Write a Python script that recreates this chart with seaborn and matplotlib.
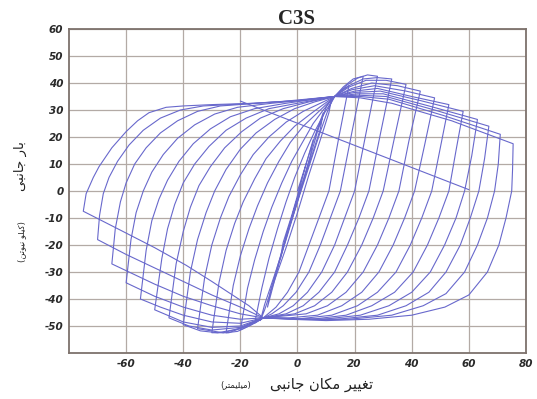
import matplotlib
matplotlib.use("Agg")
import matplotlib.pyplot as plt
import pandas as pd
import seaborn as sns

# ---- data (displacement mm, lateral load kN) ----
S1 = [(0, 0), (3, 10), (5.5, 19), (4.5, 13), (2, 4), (-1, -6), (-4, -17), (-6, -25),
      (-5, -19), (-2, -9), (1, 2), (3, 10)]
S2 = [(3, 10), (6, 20), (9, 29), (8, 23), (5, 13), (1, 0), (-3, -14), (-6.5, -27),
      (-9, -37), (-10.5, -43), (-9.5, -37), (-7, -28), (-4, -17), (0, -4), (4, 11),
      (7, 22), (10, 31)]
S3 = [(10, 31), (12, 34.5), (11, 29), (8, 19), (4, 6), (0, -8), (-4, -21), (-8, -33),
      (-11.5, -44), (-13, -48), (-11.5, -42), (-8, -31), (-4, -18), (0, -4), (4, 9),
      (8, 22), (11, 31), (13, 35)]
L1 = [(13, 35), (15.5, 37.5), (18, 39), (14.5, 20), (11, 0), (7.5, -10), (4, -20), (0.5, -30),
      (-3.5, -37.5), (-7.5, -43), (-12, -47), (-15, -49), (-12.5, -36), (-10, -25), (-7, -14),
      (-4, -4), (-1, 5), (2.5, 14), (6, 22), (9.5, 29), (13, 35)]
L2 = [(13, 35), (16, 38.5), (19.5, 41.5), (23, 42.5), (19, 21.5), (15, 0), (11.5, -10), (8, -20),
      (4, -30), (-0.5, -37.5), (-5, -42.5), (-9, -45.5), (-12, -47), (-16, -49.5), (-20, -51.5),
      (-17.5, -36), (-15, -25.5), (-12, -15), (-9, -6), (-5.5, 3), (-2, 11), (2, 18.5),
      (5.5, 25), (9, 30), (13, 35)]
L3 = [(13, 35), (17, 39), (21, 41.8), (24.5, 43), (28, 42.5), (24, 21.5), (20, 0), (16.5, -10),
      (13, -20), (8.5, -30), (3.5, -37.5), (-1.5, -42.5), (-6.5, -45.5), (-12, -47), (-17, -50),
      (-21, -52), (-25, -52.5), (-22.5, -35), (-20, -24), (-17, -14), (-14, -5.5), (-10.5, 3),
      (-6.5, 11), (-2.5, 18), (2, 24), (6.5, 28.5), (10, 32), (13, 35)]
L4 = [(13, 35), (18, 39), (23, 41.5), (28, 42), (33, 41.5), (29, 21), (25, 0), (21.5, -10),
      (17.5, -20), (13, -30), (7.5, -37.5), (2, -42.5), (-4, -45.5), (-12, -47), (-18, -50),
      (-24, -52.5), (-30, -52.5), (-27.5, -34), (-25, -22), (-22, -12), (-19, -4), (-15, 4.5),
      (-11, 12), (-6, 18.5), (-1, 24), (4.5, 28.5), (9, 32), (13, 35)]
L5 = [(13, 35), (18, 38.5), (24, 41), (31, 41), (38, 39.5), (34, 20), (30, 0), (26.5, -10),
      (22.5, -20), (17.5, -30), (12, -37.5), (6, -42.5), (-1, -45.5), (-12, -47), (-19, -50.5),
      (-26, -52.5), (-35, -51), (-32.5, -32), (-30, -20), (-27, -10), (-24, -2), (-20, 6),
      (-15.5, 13.5), (-10, 20), (-4, 25.5), (2, 29.5), (8, 32.5), (13, 35)]
L6 = [(13, 35), (19, 38), (26, 40), (35, 39), (43, 37), (39, 18.5), (35.5, 0), (32, -10),
      (28, -20), (23, -30), (17, -37.5), (10.5, -42.5), (3, -45.5), (-12, -47), (-20, -51),
      (-28, -52.5), (-34, -51.8), (-40, -49.5), (-37.5, -30), (-35, -18), (-32, -8), (-29, 0),
      (-25, 8), (-20, 15.5), (-14.5, 21.5), (-8, 26.5), (-1, 30.5), (6, 33), (13, 35)]
L7 = [(13, 35), (19, 37.5), (27, 39), (38, 37), (48, 34.5), (44.5, 17), (41, 0), (37.5, -10),
      (33.5, -20), (28.5, -30), (22.5, -37.5), (15.5, -42.5), (7, -46), (-3, -47), (-12, -47),
      (-20, -50.5), (-30, -51.5), (-38, -50), (-45, -47), (-42.5, -27), (-40, -15), (-37.5, -6),
      (-34.5, 2), (-30.5, 9), (-25.5, 16), (-19.5, 22), (-13, 27), (-5, 30.5), (4, 33), (13, 35)]
L8 = [(13, 35), (20, 37), (28, 38), (40, 35), (53, 32), (50, 16), (47, 0), (43.5, -10),
      (39.5, -20), (34.5, -30), (28, -37.5), (21, -42.5), (12, -46), (1, -47.3), (-12, -47),
      (-20, -50), (-30, -50.5), (-40, -48.5), (-50, -44), (-47.5, -25), (-45.5, -14), (-43, -5),
      (-40, 3), (-36, 10), (-31, 16.5), (-25, 22.5), (-18, 27), (-10, 30.5), (0, 32.5), (13, 35)]
L9 = [(13, 35), (20, 36.5), (29, 37), (43, 33.5), (58, 29.5), (55.5, 15), (53, 0), (49.5, -10),
      (45.5, -20), (40.5, -30), (34, -37.5), (26, -42.5), (17, -46), (5, -47.5), (-12, -47),
      (-20, -49), (-30, -48.5), (-40, -46), (-48, -43), (-55, -40), (-53, -22), (-51, -11),
      (-48.5, -3), (-45.5, 4), (-41.5, 11), (-36.5, 17.5), (-30.5, 23), (-23.5, 27.5),
      (-15, 30.5), (-4, 32.5), (13, 35)]
L10 = [(13, 35), (21, 36), (30, 36), (46, 31.5), (63, 26.5), (61, 13), (58.5, 0), (55.5, -10),
       (51.5, -20), (46.5, -30), (40, -37.5), (32, -42.5), (22, -46), (9, -47.5), (-12, -47),
       (-20, -47.5), (-30, -46), (-40, -43), (-50, -39), (-60, -34), (-58.3, -18), (-56.5, -8),
       (-54, 0), (-51, 7), (-47, 13.5), (-42, 19.5), (-36, 24.5), (-29, 28.5), (-21, 31),
       (-9, 32.5), (3, 33.7), (13, 35)]
L11 = [(13, 35), (21, 35.5), (31, 35), (48, 30), (67, 24), (65.5, 12), (63.5, 0), (60.5, -10),
       (57, -20), (52, -30), (46, -37.5), (38, -42.5), (28, -46), (14, -47.5), (0, -47.5),
       (-12, -47), (-20, -45.5), (-30, -42.5), (-40, -39), (-50, -34.5), (-58, -30.5),
       (-65, -27), (-63.8, -14), (-62, -4), (-60, 3), (-57, 10), (-53, 16), (-48, 21.5),
       (-42, 26), (-35, 29.5), (-27, 31.5), (-14, 32.5), (0, 33.5), (13, 35)]
L12 = [(13, 35), (22, 35), (32, 34), (51, 28), (71, 21), (70.3, 10), (69, 0), (66.5, -10),
       (63, -20), (58.5, -30), (52, -38), (44, -42.5), (33, -46), (18, -47.5), (3, -47.5),
       (-12, -47), (-20, -43), (-30, -38.5), (-40, -33.5), (-50, -28.5), (-60, -23.5),
       (-70, -18), (-69.3, -9), (-68, -1), (-66, 5), (-63, 11), (-59, 17), (-54, 22.5),
       (-48, 27), (-41, 30), (-33, 31.5), (-20, 32.2), (-5, 33.2), (13, 35)]
L13 = [(13, 35), (22, 34.5), (33, 32.5), (54, 26), (75.5, 17.5), (75.3, 8), (75, 0), (73, -10),
       (70.5, -20), (66.5, -30), (60, -38.5), (51.6, -43), (40, -46), (25, -47.5), (10, -48),
       (-3, -47.5), (-12, -47), (-17, -42.5), (-30, -33.5), (-39, -27.5), (-50, -21),
       (-62, -14.5), (-75, -7.5), (-74, -1), (-71.5, 5), (-69.5, 9), (-65, 16), (-60, 22),
       (-56, 26), (-52, 29), (-46, 31), (-40, 31.5), (-30, 32), (-15, 32.5), (0, 33.5), (13, 35)]
RET = [(60, 0.5), (-20, 33.3)]

x_ticks = [-60, -40, -20, 0, 20, 40, 60, 80]
y_ticks = [-50, -40, -30, -20, -10, 0, 10, 20, 30, 40, 50, 60]

title = "C3S"
# Persian labels written in visual order with Arabic presentation forms
xlabel_main = "\uFBFD\uFE92\uFEE7\uFE8E\uFE9F \uFEE5\uFE8E\uFB91\uFEE3 \uFEAE\uFBFF\uFBFF\uFED0\uFE97"
xlabel_unit = "(\uFEAE\uFE98\uFEE4\uFBFF\uFEE0\uFBFF\uFEE3)"
ylabel_main = "\uFBFD\uFE92\uFEE7\uFE8E\uFE9F \uFEAD\uFE8E\uFE91"
ylabel_unit = "(\uFEE6\uFE97\uFEEE\uFBFF\uFEE7 \uFEEE\uFEE0\uFBFF\uFB90)"

loops = {"S1": S1, "S2": S2, "S3": S3, "L1": L1, "L2": L2, "L3": L3, "L4": L4, "L5": L5,
         "L6": L6, "L7": L7, "L8": L8, "L9": L9, "L10": L10, "L11": L11, "L12": L12,
         "L13": L13, "RET": RET}
rows = []
for name, pts in loops.items():
    for i, (x, y) in enumerate(pts):
        rows.append((name, i, x, y))
df = pd.DataFrame(rows, columns=["loop", "order", "disp", "load"])

sns.set_theme(style="white")
plt.rcParams["font.family"] = ["DejaVu Sans"]

fig = plt.figure(figsize=(5.37, 3.99), dpi=100)
ax = fig.add_axes([0.1285, 0.1153, 0.851, 0.812])
ax.set_facecolor("white")

sns.lineplot(data=df, x="disp", y="load", units="loop", estimator=None, sort=False,
             color="#6868cc", lw=0.8, ax=ax, legend=False)

ax.set_xlim(-80, 80)
ax.set_ylim(-60, 60)
ax.set_xticks(x_ticks)
ax.set_yticks(y_ticks)
ax.set_xticklabels([str(v) for v in x_ticks])
ax.set_yticklabels([str(v) for v in y_ticks])
ax.grid(True, color="#b3aaa5", lw=0.9, ls="-")
ax.set_axisbelow(True)
for s in ax.spines.values():
    s.set_color("#7d726c")
    s.set_linewidth(1.3)
ax.tick_params(direction="in", length=3, color="#7d726c", labelsize=7.5,
               labelcolor="#2a2a2a", pad=4)
for lab in ax.get_xticklabels() + ax.get_yticklabels():
    lab.set_fontstyle("italic")
    lab.set_fontweight("bold")
ax.set_xlabel("")
ax.set_ylabel("")

fig.text(0.553, 0.953, title, ha="center", va="center", fontsize=15,
         fontweight="bold", family="Liberation Serif")
fig.text(322 / 537, 1 - 384 / 399, xlabel_main, ha="center", va="center", fontsize=10.5,
         color="#222222")
fig.text(236 / 537, 1 - 385 / 399, xlabel_unit, ha="center", va="center", fontsize=6,
         color="#222222")
fig.text(20 / 537, 1 - 166 / 399, ylabel_main, ha="center", va="center", fontsize=9.5,
         rotation=90, color="#222222")
fig.text(22 / 537, 1 - 242 / 399, ylabel_unit, ha="center", va="center", fontsize=6,
         rotation=90, color="#222222")

fig.savefig("out.png", dpi=100, facecolor="white")
